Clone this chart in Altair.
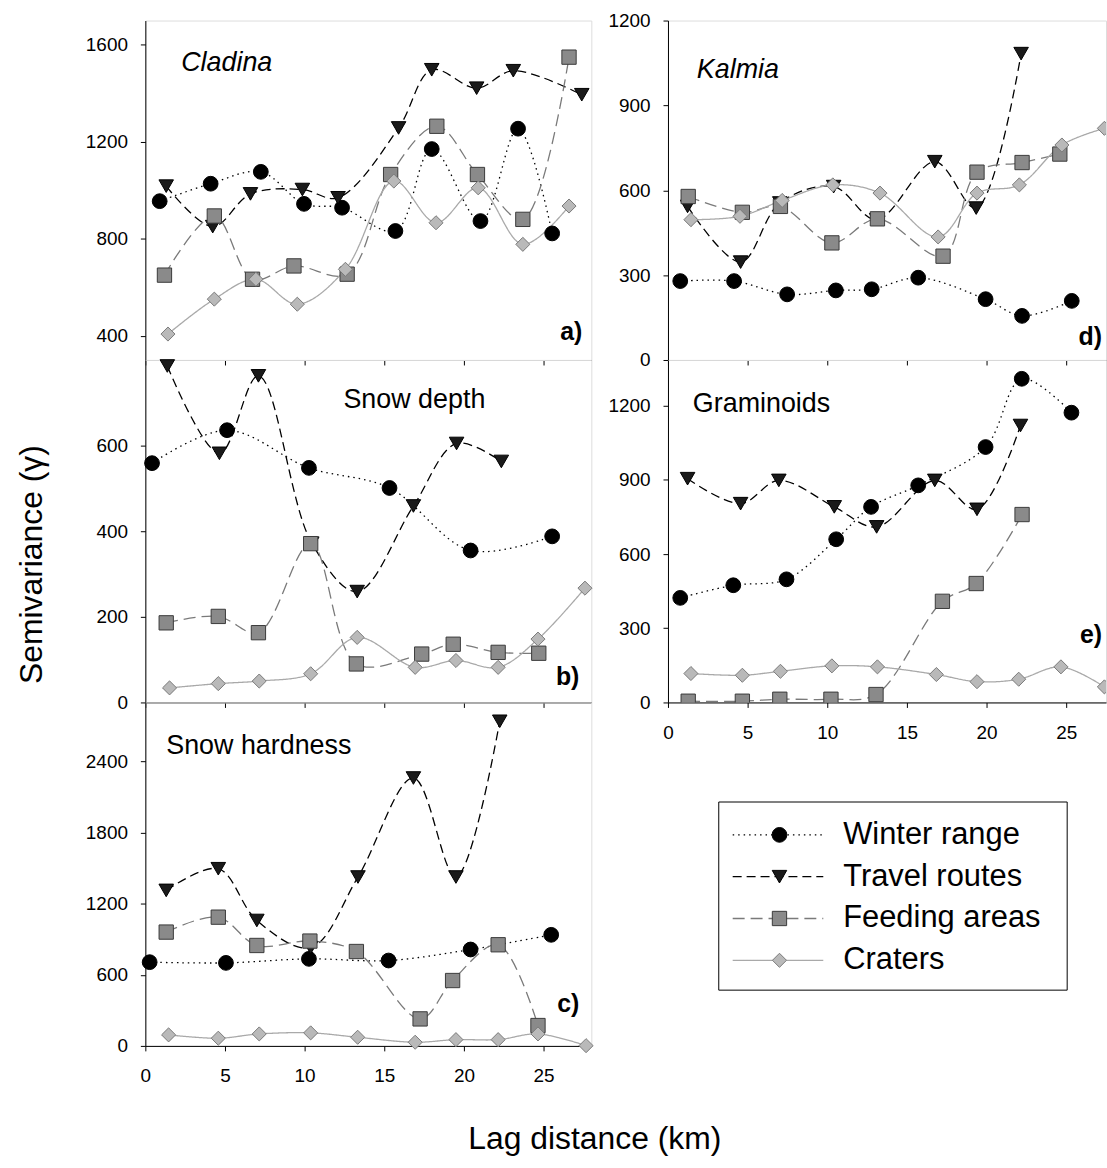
import altair as alt
import pandas as pd

SERIES = ["Winter range", "Travel routes", "Feeding areas", "Craters"]
LAG_TICKS = [0, 5, 10, 15, 20, 25]

# ---- a) Cladina : (lag km, semivariance)
cladina_winter = [(0.9, 955), (4.1, 1027), (7.25, 1076), (9.96, 944), (12.35, 928),
                  (15.7, 832), (17.98, 1170), (21.04, 873), (23.4, 1254), (25.54, 822)]
cladina_travel = [(1.31, 1017), (4.23, 850), (6.6, 985), (9.86, 1003), (12.1, 969),
                  (15.9, 1257), (17.98, 1497), (20.8, 1421), (23.1, 1493), (27.4, 1394)]
cladina_feeding = [(1.2, 650), (4.33, 894), (6.73, 633), (9.33, 688), (12.67, 654),
                   (15.4, 1065), (18.3, 1264), (20.85, 1065), (23.7, 880), (26.6, 1549)]
cladina_craters = [(1.42, 407), (4.33, 551), (6.94, 633), (9.54, 530), (12.56, 674),
                   (15.6, 1038), (18.25, 866), (20.9, 1010), (23.7, 777), (26.6, 935)]

# ---- b) Snow depth
depth_winter = [(0.42, 559), (5.13, 636), (10.27, 548), (15.33, 501), (20.42, 355), (25.54, 388)]
depth_travel = [(1.38, 786), (4.65, 582), (7.1, 763), (10.45, 372), (13.3, 259),
                (16.83, 459), (19.54, 605), (22.35, 563)]
depth_feeding = [(1.31, 186), (4.58, 201), (7.1, 163), (10.38, 371), (13.25, 90),
                 (17.35, 113), (19.33, 136), (22.15, 117), (24.7, 115)]
depth_craters = [(1.52, 34), (4.58, 44), (7.15, 50), (10.38, 67), (13.3, 152),
                 (16.94, 82), (19.5, 98), (22.15, 82), (24.65, 148), (27.6, 267)]

# ---- c) Snow hardness
hard_winter = [(0.27, 707), (5.06, 701), (10.27, 735), (15.27, 721), (20.42, 814), (25.48, 938)]
hard_travel = [(1.31, 1313), (4.58, 1496), (7.0, 1059), (10.38, 830), (13.35, 1426),
               (16.83, 2262), (19.5, 1426), (22.25, 2741)]
hard_feeding = [(1.31, 961), (4.58, 1087), (7.0, 848), (10.33, 885), (13.25, 797),
                (17.25, 228), (19.29, 552), (22.15, 854), (24.65, 172)]
hard_craters = [(1.46, 93), (4.58, 65), (7.15, 101), (10.38, 110), (13.33, 73),
                (16.94, 31), (19.5, 53), (22.15, 53), (24.65, 101), (27.67, 2)]

# ---- d) Kalmia
kalmia_winter = [(0.77, 279), (4.15, 279), (7.48, 232), (10.54, 246), (12.79, 250),
                 (15.71, 291), (19.94, 215), (22.23, 156), (25.35, 209)]
kalmia_travel = [(1.23, 543), (4.56, 346), (7.02, 555), (10.4, 613), (13.1, 496),
                 (16.75, 701), (19.35, 537), (22.17, 1083)]
kalmia_feeding = [(1.27, 578), (4.67, 522), (7.06, 543), (10.29, 414), (13.15, 499),
                  (17.27, 367), (19.4, 664), (22.23, 698), (24.6, 728)]
kalmia_craters = [(1.44, 496), (4.52, 508), (7.17, 564), (10.35, 619), (13.31, 590),
                  (16.96, 435), (19.4, 590), (22.06, 619), (24.73, 760), (27.4, 819)]

# ---- e) Graminoids
gram_winter = [(0.77, 423), (4.1, 474), (7.44, 498), (10.56, 660), (12.75, 791),
               (15.71, 878), (19.94, 1033), (22.21, 1309), (25.33, 1172)]
gram_travel = [(1.23, 905), (4.56, 804), (6.96, 898), (10.44, 791), (13.1, 710),
               (16.75, 898), (19.4, 781), (22.13, 1120)]
gram_feeding = [(1.27, 5), (4.67, 5), (7.02, 13), (10.23, 13), (13.06, 32),
                (17.23, 409), (19.35, 481), (22.23, 760)]
gram_craters = [(1.44, 117), (4.67, 110), (7.06, 126), (10.29, 148), (13.15, 144),
                (16.85, 113), (19.4, 84), (22.02, 94), (24.67, 144), (27.4, 63)]

FONT = "Liberation Sans"

color_scale = alt.Scale(domain=SERIES, range=["#000000", "#000000", "#7a7a7a", "#a9a9a9"])
dash_scale = alt.Scale(domain=SERIES, range=[[1.5, 4], [9, 5], [12, 6], [1, 0]])
shape_scale = alt.Scale(domain=SERIES, range=["circle", "triangle-down", "square", "diamond"])
fill_scale = alt.Scale(domain=SERIES, range=["#000000", "#1a1a1a", "#8a8a8a", "#b9b9b9"])
stroke_scale = alt.Scale(domain=SERIES, range=["#000000", "#000000", "#3a3a3a", "#7a7a7a"])
size_scale = alt.Scale(domain=SERIES, range=[220, 200, 200, 270])


def frame(series_lists):
    rows = []
    for name, pts in zip(SERIES, series_lists):
        for lag, g in pts:
            rows.append({"series": name, "lag": lag, "gamma": g})
    return pd.DataFrame(rows)


def panel(series_lists, xmax, ydomain, yvalues, w, h, xlabels, label, lx, ly,
          italic, tag, tx, ty, ytitle=None, clip_points=False):
    df = frame(series_lists)
    yaxis_kw = dict(values=yvalues, format="d", tickSize=5, labelPadding=13, labelFontSize=19,
                    labelFont=FONT, labelColor="black", tickColor="black",
                    domainColor="black", grid=False, labelFlush=False,
                    labelOverlap=False)
    if ytitle:
        yaxis_kw.update(title=ytitle, titleFontSize=32, titleFont=FONT,
                        titleFontWeight="normal", titleColor="black",
                        titleX=-114, titleY=205, titleAlign="center",
                        titleBaseline="middle", titleAngle=270)
    else:
        yaxis_kw.update(title=None)
    xaxis_kw = dict(values=LAG_TICKS, format="d", tickSize=5, labelPadding=16, labelFontSize=19,
                    labelFont=FONT, labelColor="black", tickColor="black",
                    domainColor="black", grid=False, labels=xlabels,
                    labelFlush=False, labelOverlap=False, title=None)

    x = alt.X("lag:Q", scale=alt.Scale(domain=[0, xmax], nice=False, zero=False),
              axis=alt.Axis(**xaxis_kw))
    y = alt.Y("gamma:Q", scale=alt.Scale(domain=ydomain, nice=False, zero=False),
              axis=alt.Axis(**yaxis_kw))
    base = alt.Chart(df)
    lines = base.mark_line(interpolate="catmull-rom", strokeWidth=1.3, clip=True).encode(
        x=x, y=y,
        color=alt.Color("series:N", scale=color_scale, legend=None),
        strokeDash=alt.StrokeDash("series:N", scale=dash_scale, legend=None),
    )
    pts = base.mark_point(filled=True, opacity=1, strokeWidth=1, clip=clip_points).encode(
        x=x, y=y,
        shape=alt.Shape("series:N", scale=shape_scale, legend=None),
        fill=alt.Fill("series:N", scale=fill_scale, legend=None),
        stroke=alt.Stroke("series:N", scale=stroke_scale, legend=None),
        size=alt.Size("series:N", scale=size_scale, legend=None),
    )
    lab = alt.Chart(pd.DataFrame({"t": [label]})).mark_text(
        align="left", baseline="middle", fontSize=27, font=FONT,
        fontStyle="italic" if italic else "normal", color="black"
    ).encode(text="t:N", x=alt.value(lx), y=alt.value(ly))
    tg = alt.Chart(pd.DataFrame({"t": [tag]})).mark_text(
        align="right", baseline="middle", fontSize=25, font=FONT,
        fontWeight="bold", color="black"
    ).encode(text="t:N", x=alt.value(tx), y=alt.value(ty))
    return alt.layer(lines, pts, lab, tg).properties(width=w, height=h)


LW = 448
RW = 440

pa = panel([cladina_winter, cladina_travel, cladina_feeding, cladina_craters], 28,
           [300, 1700], [400, 800, 1200, 1600], LW, 341, False,
           "Cladina", 36, 43, True, "a)", 439, 313)
pb = panel([depth_winter, depth_travel, depth_feeding, depth_craters], 28,
           [0, 800], [0, 200, 400, 600], LW, 344, False,
           "Snow depth", 199, 40, False, "b)", 436, 318, ytitle="Semivariance (γ)")
pc = panel([hard_winter, hard_travel, hard_feeding, hard_craters], 28,
           [0, 2900], [0, 600, 1200, 1800, 2400], LW, 345, True,
           "Snow hardness", 21, 44, False, "c)", 436, 303)
pd_ = panel([kalmia_winter, kalmia_travel, kalmia_feeding, kalmia_craters], 27.5,
            [0, 1200], [0, 300, 600, 900, 1200], RW, 341, False,
            "Kalmia", 29, 50, True, "d)", 436, 318, clip_points=True)
pe = panel([gram_winter, gram_travel, gram_feeding, gram_craters], 27.5,
           [0, 1385], [0, 300, 600, 900, 1200], RW, 344, True,
           "Graminoids", 25, 44, False, "e)", 436, 276, clip_points=True)

# ---- manual legend panel (box sits 100 px below panel e)
leg_df = pd.DataFrame({"series": SERIES, "row": [0, 1, 2, 3]})
ly = alt.Y("row:Q", scale=alt.Scale(domain=[-3.167, 3.714], reverse=True, nice=False, zero=False),
           axis=None)
leg_base = alt.Chart(leg_df)
leg_box = alt.Chart(pd.DataFrame({"b": [0]})).mark_rect(
    fill="white", stroke="black", strokeWidth=1
).encode(x=alt.value(51), x2=alt.value(401), y=alt.value(100), y2=alt.value(289))
leg_rule = leg_base.mark_rule(strokeWidth=1.3).encode(
    x=alt.value(65), x2=alt.value(156), y=ly,
    color=alt.Color("series:N", scale=color_scale, legend=None),
    strokeDash=alt.StrokeDash("series:N", scale=dash_scale, legend=None),
)
leg_pts = leg_base.mark_point(filled=True, opacity=1, strokeWidth=1).encode(
    x=alt.value(112), y=ly,
    shape=alt.Shape("series:N", scale=shape_scale, legend=None),
    fill=alt.Fill("series:N", scale=fill_scale, legend=None),
    stroke=alt.Stroke("series:N", scale=stroke_scale, legend=None),
    size=alt.Size("series:N", scale=size_scale, legend=None),
)
leg_txt = leg_base.mark_text(align="left", baseline="middle", fontSize=31, font=FONT,
                             color="black").encode(x=alt.value(176), y=ly, text="series:N")
legend_panel = alt.layer(leg_box, leg_rule, leg_pts, leg_txt).properties(
    width=RW, height=289, view=alt.ViewBackground(stroke="transparent")
)

left = alt.vconcat(pa, pb, pc, spacing=0, bounds="flush")
right = alt.vconcat(pd_, pe, legend_panel, spacing=0, bounds="flush")
chart = alt.hconcat(left, right, spacing=11).properties(
    padding={"left": 15, "top": 8, "right": 0, "bottom": 5},
    title=alt.TitleParams("Lag distance (km)", orient="bottom", anchor="middle",
                          fontSize=32, font=FONT, fontWeight="normal", color="black",
                          offset=38, dx=34),
).configure_view(stroke="black", strokeWidth=1).configure(font=FONT)

chart.save("out.html", embed_options={"renderer": "svg", "actions": False})
